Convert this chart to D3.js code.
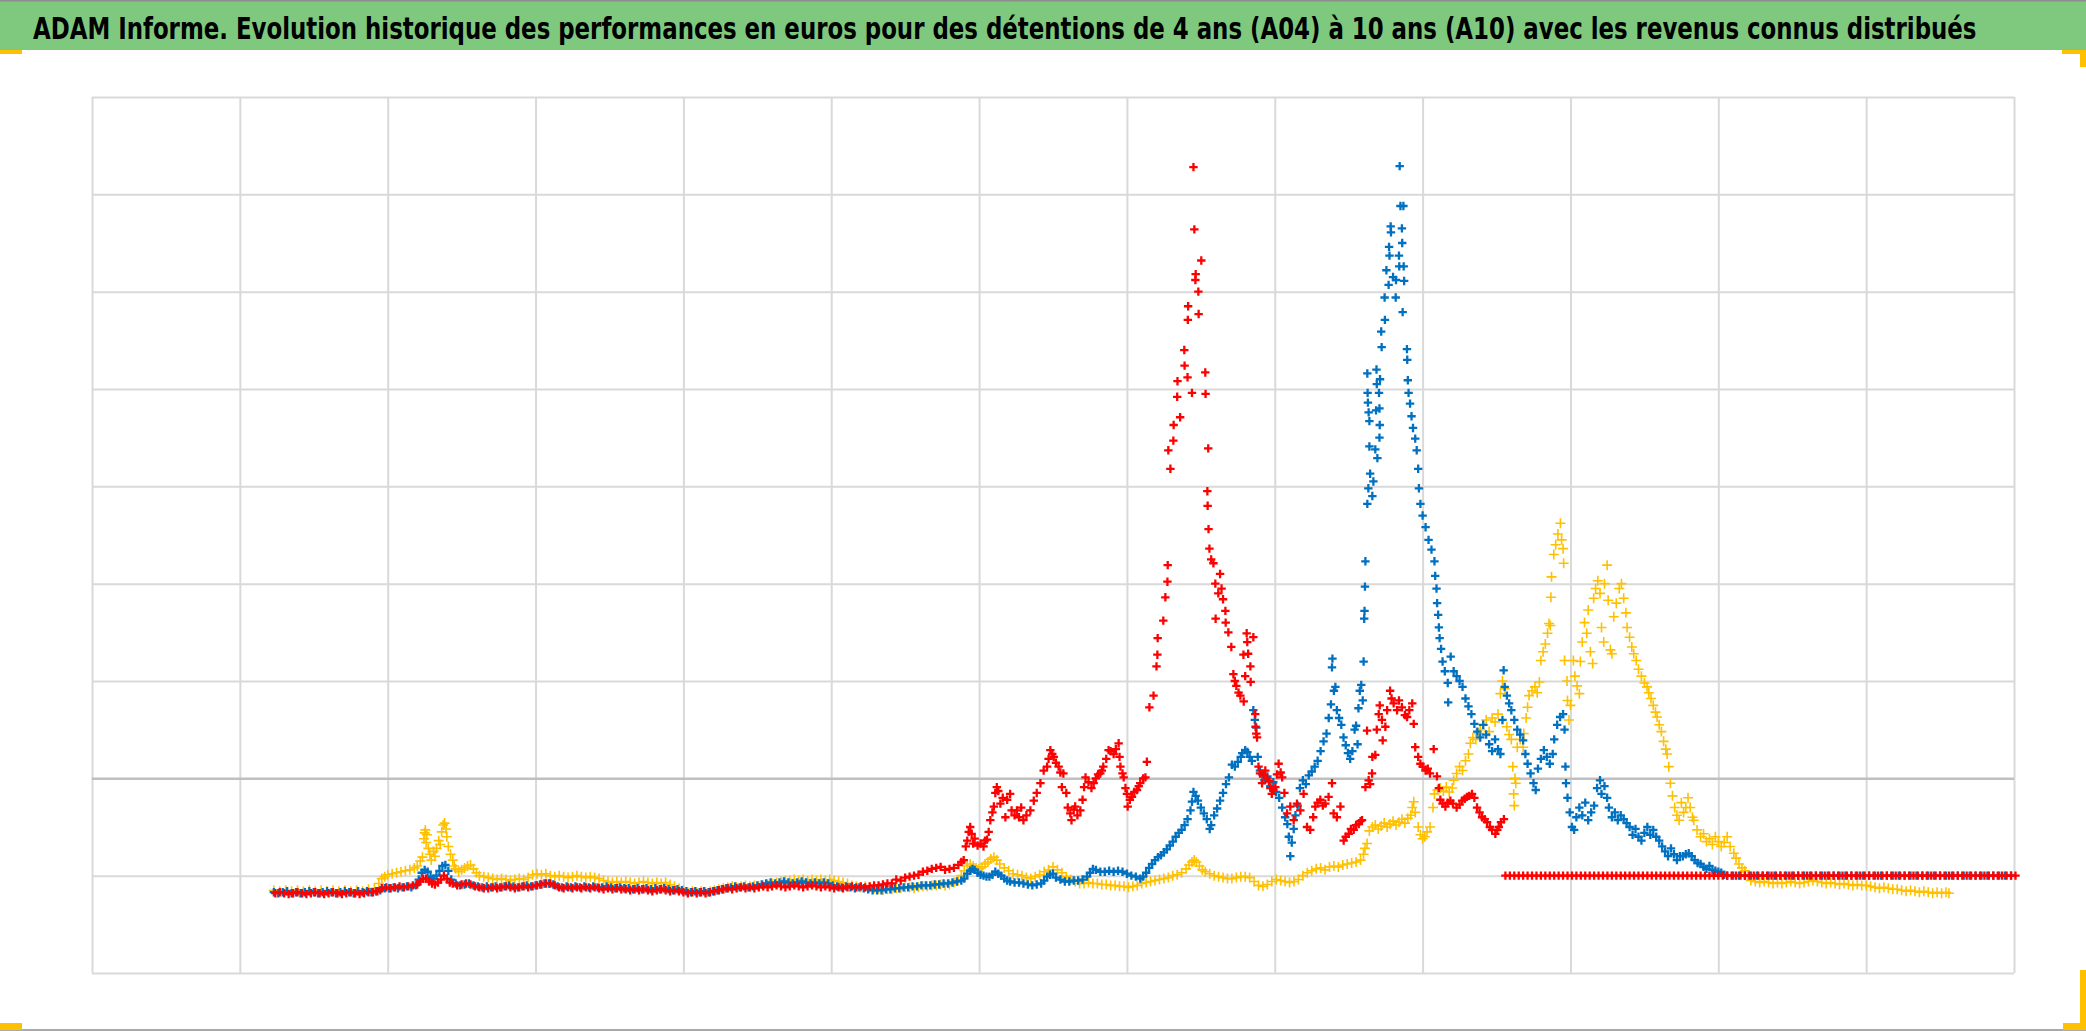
<!DOCTYPE html>
<html>
<head>
<meta charset="utf-8">
<script src="https://cdn.jsdelivr.net/npm/d3@7"></script>
<style>
  html, body { margin: 0; padding: 0; background: #ffffff; }
  svg { display: block; }
</style>
</head>
<body>
<svg id="chart" width="2086" height="1031"></svg>
<script>
// ---------------- DATA ----------------
const chartTitle = "ADAM Informe. Evolution historique des performances en euros pour des détentions de 4 ans (A04) à 10 ans (A10) avec les revenus connus distribués";

// grid positions (no tick labels are shown on the chart)
const xGrid = [0, 100, 200, 300, 400, 500, 600, 700, 800, 900, 1000, 1100, 1200, 1300];
const yGrid = [-200, -100, 0, 100, 200, 300, 400, 500, 600, 700];

const seriesNames = ["A04", "A07", "A10"];
const seriesColors = ["#FFC000", "#0070C0", "#FF0000"];

// [time index, performance]
const yellowData = [[123,-115],[127,-116],[131,-115],[135,-116],[139,-115],[143,-116],[147,-115],[151,-116],[155,-115],[159,-116],[163,-115],[167,-116],[171,-115],[175,-116],[179,-115],[183,-116],[187,-114],[191,-113],[194,-108],[196,-103],[198,-101],[200,-99],[203,-98],[206,-97],[209,-96],[212,-95],[215,-94],[218,-92],[220,-90],[222,-85],[223.5,-81],[224.5,-62],[225,-56],[225.5,-53],[226,-66],[226.5,-58],[227.5,-72],[228.5,-78],[229.5,-84],[231,-75],[232,-80],[233,-72],[234.5,-64],[235.5,-68],[236.5,-55],[237.5,-48],[238.5,-46],[239.5,-52],[240,-60],[241,-70],[242.5,-78],[244,-84],[245,-90],[246,-93],[248,-96],[250,-94],[252,-92],[254,-90],[256,-89],[258,-93],[260,-97],[262,-100],[265,-101],[268,-102],[271,-103],[274,-104],[277,-103],[280,-104],[283,-105],[286,-104],[289,-103],[292,-104],[295,-102],[298,-99],[301,-98],[304,-99],[307,-98],[310,-100],[313,-101],[316,-100],[319,-101],[322,-102],[325,-101],[328,-100],[331,-101],[334,-102],[337,-101],[340,-102],[343,-103],[346,-105],[349,-106],[352,-107],[355,-106],[358,-107],[361,-106],[364,-107],[367,-108],[370,-107],[373,-106],[376,-107],[379,-108],[382,-107],[385,-108],[388,-107],[391,-109],[394,-111],[397,-113],[400,-115],[403,-117],[406,-116],[409,-117],[412,-116],[415,-117],[418,-116],[421,-115],[424,-114],[427,-113],[430,-112],[433,-111],[436,-112],[439,-111],[442,-110],[445,-111],[448,-110],[451,-111],[454,-110],[457,-109],[460,-108],[463,-107],[466,-106],[469,-105],[472,-105],[475,-104],[478,-105],[481,-104],[484,-105],[487,-104],[490,-105],[493,-104],[496,-105],[499,-104],[502,-105],[505,-106],[508,-107],[511,-108],[514,-110],[517,-111],[520,-112],[523,-111],[526,-112],[529,-113],[532,-114],[535,-115],[538,-114],[541,-114],[544,-113],[547,-113],[550,-112],[553,-112],[556,-113],[559,-112],[562,-111],[565,-111],[568,-110],[571,-110],[574,-109],[577,-110],[580,-109],[583,-107],[586,-105],[588,-100],[590,-95],[592,-90],[594,-88],[596,-90],[598,-92],[600,-93],[602,-91],[604,-88],[606,-86],[608,-83],[610,-81],[612,-84],[614,-88],[617,-92],[620,-95],[623,-98],[626,-99],[629,-100],[632,-102],[635,-103],[638,-101],[641,-99],[644,-96],[647,-94],[650,-91],[653,-94],[656,-97],[659,-101],[662,-104],[665,-106],[668,-108],[671,-108],[674,-107],[677,-108],[680,-108],[683,-109],[686,-109],[689,-110],[692,-110],[695,-111],[698,-111],[701,-112],[704,-111],[707,-110],[710,-108],[713,-107],[716,-106],[719,-105],[722,-104],[725,-103],[728,-102],[731,-100],[734,-99],[737,-97],[740,-93],[742,-89],[744,-86],[745.5,-84],[747,-86],[749,-90],[751,-94],[753,-96],[756,-98],[759,-100],[762,-101],[765,-102],[768,-103],[771,-103],[774,-102],[777,-101],[780,-101],[783,-102],[786,-106],[789,-110],[792,-111],[795,-109],[798,-106],[801,-104],[804,-105],[807,-106],[810,-107],[813,-106],[816,-104],[819,-100],[822,-97],[825,-95],[828,-93],[831,-92],[834,-94],[837,-91],[840,-90],[843,-91],[846,-89],[849,-88],[852,-87],[855,-86],[858,-84],[860,-78],[861,-72],[862.4,-67],[864,-54],[866,-50],[868,-48],[870,-52],[872,-49],[874,-46],[876,-50],[878,-47],[880,-44],[882,-48],[884,-45],[886,-42],[888,-46],[890,-41],[892,-38],[893,-30],[894,-24],[895,-35],[897,-50],[898.5,-58],[900,-62],[901.5,-60],[903,-55],[905,-50],[907,-30],[908,-16],[910,-12],[912,-10],[914,-13],[916,-9],[918,-14],[920,-10],[921,-2],[923,5],[925,12],[927,8],[929,18],[931,25],[932.3,36],[934,42],[936,40],[938,46],[939,50],[941,55],[943,60],[945,48],[947,62],[949,58],[951,66],[952.6,87],[954,100],[955.5,92],[957,53],[958.5,45],[960,40],[961,12],[961.6,-16],[962,-28],[962.5,0],[963,-5],[964,32],[966,40],[968,32],[968.4,46],[970,62],[971,73],[972,85],[974,90],[976,94],[977.5,88],[979,99],[980,121],[981.5,130],[983,138],[984.5,149],[985.5,159],[986.4,157],[986.8,186],[987.2,207],[988.7,230],[990,240],[991.5,251],[993.2,262],[994,245],[995,236],[995.4,221],[996,121],[997.7,100],[998,80],[999,60],[1000,75],[1002,121],[1003,105],[1004.5,95],[1006,87],[1006.7,120],[1008,140],[1009.5,160],[1011,149],[1012,173],[1013.5,130],[1015,118],[1015.7,185],[1017,195],[1018.5,203],[1020,190],[1021,155],[1022.5,140],[1023,200],[1024.8,219],[1025.5,183],[1027,132],[1028,128],[1029.3,166],[1031,180],[1033,195],[1034.5,200],[1036,185],[1037.5,170],[1038.3,155],[1040,145],[1041.5,135],[1042.8,128],[1044.5,121],[1046,112],[1048,105],[1050,98],[1051.8,94],[1053,88],[1054.5,82],[1056,75],[1057.5,68],[1058.6,63],[1060,55],[1061.5,48],[1063,38],[1064.5,30],[1065.4,25],[1066.5,12],[1067.6,-5],[1069,-18],[1070.5,-30],[1072,-38],[1073.5,-43],[1075,-25],[1076.5,-35],[1078,-30],[1079.5,-20],[1081,-30],[1082.5,-40],[1083.4,-43],[1085.6,-53],[1088,-60],[1090,-57],[1092,-65],[1094,-62],[1096,-68],[1098,-60],[1100,-65],[1102,-70],[1104,-66],[1106,-60],[1108,-70],[1110.5,-77],[1112,-82],[1114,-88],[1116,-92],[1118,-95],[1120,-100],[1122,-105],[1125,-106],[1128,-107],[1131,-106],[1134,-107],[1137,-108],[1140,-107],[1143,-108],[1146,-107],[1149,-106],[1152,-107],[1155,-108],[1158,-107],[1161,-106],[1164,-105],[1167,-106],[1170,-107],[1173,-108],[1176,-107],[1179,-108],[1182,-109],[1185,-108],[1188,-109],[1191,-110],[1194,-109],[1197,-110],[1200,-110],[1203,-111],[1206,-112],[1209,-113],[1212,-112],[1215,-113],[1218,-114],[1221,-114],[1224,-115],[1227,-116],[1230,-115],[1233,-116],[1236,-117],[1239,-116],[1242,-117],[1245,-118],[1248,-117],[1251,-118],[1254,-117],[1256,-118]];

const blueData = [[123,-117],[126,-118],[129,-117],[132,-116],[135,-118],[138,-117],[141,-118],[144,-117],[147,-116],[150,-117],[153,-118],[156,-117],[159,-116],[162,-117],[165,-118],[168,-117],[171,-116],[174,-117],[177,-118],[180,-116],[183,-117],[186,-116],[189,-117],[192,-116],[195,-115],[198,-113],[201,-113],[204,-112],[207,-113],[210,-112],[213,-111],[216,-112],[219,-110],[221,-104],[223,-97],[225,-94],[227,-96],[229,-101],[231,-103],[233,-100],[235,-95],[237,-90],[239,-89],[241,-95],[243,-104],[246,-108],[249,-110],[252,-109],[255,-108],[258,-110],[261,-111],[264,-112],[267,-111],[270,-112],[273,-111],[276,-112],[279,-111],[282,-110],[285,-111],[288,-112],[291,-111],[294,-110],[297,-111],[300,-110],[303,-109],[306,-108],[309,-108],[312,-109],[315,-111],[318,-112],[321,-111],[324,-112],[327,-111],[330,-112],[333,-111],[336,-112],[339,-111],[342,-112],[345,-112],[348,-111],[351,-112],[354,-113],[357,-112],[360,-113],[363,-113],[366,-114],[369,-113],[372,-114],[375,-113],[378,-114],[381,-113],[384,-114],[387,-113],[390,-114],[393,-115],[396,-114],[399,-115],[402,-116],[405,-117],[408,-116],[411,-117],[414,-116],[417,-117],[420,-116],[423,-115],[426,-114],[429,-113],[432,-112],[435,-111],[438,-112],[441,-111],[444,-112],[447,-111],[450,-110],[453,-109],[456,-108],[459,-107],[462,-108],[465,-107],[468,-106],[471,-107],[474,-108],[477,-107],[480,-106],[483,-107],[486,-108],[489,-107],[492,-108],[495,-107],[498,-108],[501,-110],[504,-111],[507,-112],[510,-111],[513,-112],[516,-113],[519,-112],[522,-113],[525,-114],[528,-115],[531,-115],[534,-115],[537,-114],[540,-114],[543,-113],[546,-113],[549,-112],[552,-112],[555,-111],[558,-111],[561,-110],[564,-110],[567,-110],[570,-109],[573,-109],[576,-108],[579,-108],[582,-107],[585,-106],[588,-105],[590,-103],[592,-98],[594,-95],[595.5,-93],[597,-94],[599,-97],[601,-99],[603,-100],[605,-101],[607,-101],[609,-99],[611,-96],[613,-98],[615,-100],[617,-103],[619,-105],[621,-106],[624,-107],[627,-107],[630,-108],[633,-109],[636,-110],[639,-109],[642,-108],[644,-105],[646,-101],[648,-99],[650,-98],[652,-102],[655,-104],[658,-106],[661,-106],[664,-105],[667,-105],[670,-104],[673,-101],[675,-97],[677,-93],[679,-94],[682,-96],[685,-96],[688,-95],[691,-96],[694,-95],[697,-96],[700,-98],[703,-100],[706,-101],[709,-103],[711,-101],[713,-97],[715,-92],[717,-88],[719,-84],[721,-81],[723,-79],[725,-76],[727,-73],[729,-69],[731,-65],[733,-60],[735,-56],[737,-53],[739,-48],[741,-42],[743,-33],[744,-24],[745,-14],[746.5,-18],[748,-23],[750,-30],[752,-36],[754,-42],[756,-52],[757,-48],[759,-38],[761,-31],[763,-23],[765,-15],[767,-6],[769,1],[771,14],[773,12],[775,17],[777,22],[778,26],[780,29],[781.5,27],[783,22],[784.5,18],[785.5,70],[786.5,60],[787.5,52],[788.5,22],[790,8],[791.5,4],[793,-2],[795,2],[797,-8],[799,-4],[801,-14],[803,-20],[805,-30],[807,-40],[808.5,-47],[809.5,-60],[810.5,-80],[811.5,-66],[812.8,-52],[814,-38],[815.5,-28],[817,-10],[819,-2],[821,-6],[823,3],[825,7],[827,12],[829,18],[831,28],[833,38],[835,46],[836.5,62],[838,76],[838.7,114],[839,123],[840,90],[841,94],[842,70],[843.5,62],[845,55],[846.5,42],[848,34],[849.5,26],[851,20],[852.5,28],[854,50],[855,54],[856,35],[856.6,72],[857.5,90],[858.5,96],[859.5,80],[860.1,120],[860.5,164],[860.7,172],[861,197],[861.3,223],[862.6,282],[863.3,298],[864.5,313],[866,290],[866.7,305],[868,338],[869.4,329],[864,341],[862.6,416],[862.8,396],[863,386],[863.5,376],[864,367],[868.8,420],[869,405],[868.5,378],[870.5,396],[870.8,380],[871,363],[871.2,410],[870.8,350],[872,459],[872.3,443],[874.3,494],[874.5,471],[875.5,522],[877,507],[877.3,546],[877.6,537],[878.4,567],[878.6,561],[880,515],[881.8,494],[882,512],[884,537],[884.2,526],[884.5,629],[885,588],[887,588],[886,565],[886.2,550],[886.5,479],[887.2,526],[887.5,511],[889.4,441],[889.6,430],[890,409],[890.5,396],[891.5,385],[892.5,372],[893.5,360],[895,349],[896,337],[897,318],[897.5,298],[898.5,282],[900,270],[902,258],[904,245],[906,235],[908,223],[908.5,208],[909.4,195],[909.8,180],[910.5,168],[911,155],[911.5,144],[912.5,133],[913.5,120],[915,110],[917,98],[917.3,78],[919,125],[921,110],[923,105],[925,100],[927,94],[929,82],[931,74],[933,66],[935,56],[937,48],[939,42],[941,55],[943,45],[945,35],[947,28],[949,40],[951,30],[952.6,25],[954,60],[954.8,111],[955.5,94],[957,85],[958.5,77],[960,70],[962,60],[964,50],[966,45],[968,39],[969.5,25],[971,15],[973,5],[975,-5],[976.5,-12],[978,10],[980,20],[982,29],[984,22],[986,15],[988,25],[989,40],[991,55],[993,63],[995,66],[996,50],[996.6,12],[997,-5],[998,-20],[999.5,-35],[1001,-50],[1002.5,-53],[1004,-40],[1006,-30],[1008,-38],[1010,-25],[1012,-43],[1014,-35],[1016,-28],[1018,-10],[1020,-2],[1021,-16],[1023,-8],[1024.8,-20],[1026,-30],[1028,-40],[1030,-35],[1032,-43],[1034,-38],[1036,-42],[1038,-46],[1040,-50],[1042,-58],[1044,-52],[1046,-60],[1048,-64],[1050,-56],[1052,-50],[1054,-58],[1056,-53],[1058,-60],[1060,-64],[1062,-70],[1064,-75],[1066,-80],[1068,-72],[1070,-78],[1072,-84],[1074,-80],[1076,-80],[1078,-78],[1080,-77],[1082,-80],[1084,-84],[1086,-87],[1088,-88],[1090,-91],[1092,-93],[1094,-90],[1096,-94],[1098,-95],[1100,-96],[1102,-97],[1104,-99],[1106,-100],[1110,-100],[1114,-100],[1118,-100],[1122,-100],[1126,-100],[1130,-100],[1134,-100],[1138,-100],[1142,-100],[1146,-100],[1150,-100],[1154,-100],[1158,-100],[1162,-100],[1166,-100],[1170,-100],[1174,-100],[1178,-100],[1182,-100],[1186,-100],[1190,-100],[1194,-100],[1198,-100],[1202,-100],[1206,-100],[1210,-100],[1214,-100],[1218,-100],[1222,-100],[1226,-100],[1230,-100],[1234,-100],[1238,-100],[1242,-100],[1246,-100],[1250,-100],[1254,-100],[1258,-100],[1262,-100],[1266,-100],[1270,-100],[1274,-100],[1278,-100],[1282,-100],[1286,-100],[1290,-100],[1294,-100],[1298,-100]];

const redData = [[124,-118],[127,-117],[130,-118],[133,-119],[136,-118],[139,-117],[142,-118],[145,-119],[148,-118],[151,-117],[154,-118],[157,-119],[160,-118],[163,-117],[166,-118],[169,-119],[172,-118],[175,-117],[178,-118],[181,-119],[184,-118],[187,-117],[190,-117],[193,-116],[196,-113],[199,-112],[202,-113],[205,-112],[208,-111],[211,-112],[214,-111],[217,-110],[220,-109],[222,-106],[224,-103],[226,-103],[228,-106],[230,-108],[232,-109],[234,-107],[236,-104],[238,-100],[240,-103],[242,-107],[244,-108],[247,-110],[250,-109],[253,-108],[256,-109],[259,-111],[262,-112],[265,-113],[268,-113],[271,-112],[274,-113],[277,-112],[280,-111],[283,-112],[286,-113],[289,-112],[292,-111],[295,-112],[298,-111],[301,-110],[304,-109],[307,-108],[310,-108],[313,-110],[316,-112],[319,-113],[322,-112],[325,-113],[328,-112],[331,-113],[334,-112],[337,-113],[340,-112],[343,-113],[346,-114],[349,-113],[352,-114],[355,-113],[358,-114],[361,-114],[364,-115],[367,-114],[370,-115],[373,-114],[376,-115],[379,-116],[382,-115],[385,-114],[388,-115],[391,-116],[394,-115],[397,-116],[400,-117],[403,-118],[406,-117],[409,-118],[412,-117],[415,-118],[418,-117],[421,-116],[424,-115],[427,-114],[430,-113],[433,-114],[436,-113],[439,-112],[442,-113],[445,-112],[448,-113],[451,-112],[454,-111],[457,-112],[460,-111],[463,-110],[466,-111],[469,-112],[472,-111],[475,-110],[478,-111],[481,-112],[484,-111],[487,-110],[490,-111],[493,-112],[496,-111],[499,-112],[502,-113],[505,-112],[508,-113],[511,-112],[514,-111],[517,-112],[520,-111],[523,-112],[526,-111],[529,-110],[532,-110],[535,-109],[538,-108],[541,-108],[544,-104],[547,-105],[550,-102],[553,-101],[556,-100],[559,-99],[562,-96],[565,-95],[568,-93],[571,-92],[574,-91],[577,-94],[580,-93],[583,-92],[586,-89],[588,-86],[589.6,-84],[591,-70],[592,-64],[593,-55],[594,-50],[595,-57],[596,-67],[597,-62],[599,-69],[601,-67],[603,-70],[604,-64],[605.4,-63],[606.5,-55],[607.6,-43],[609,-35],[610,-29],[611,-15],[612,-9],[613,-13],[614.4,-26],[616,-20],[617.8,-40],[619,-22],[621,-16],[622,-33],[624,-38],[625.6,-33],[627,-40],[628.5,-30],[630,-43],[632,-38],[634.7,-33],[637,-23],[639,-15],[641.5,-5],[643.7,8],[646,12],[647,20],[648.2,29],[649.5,25],[650.5,22],[652,16],[653.8,12],[655,6],[656,-9],[657,5],[659,-15],[660,-30],[661.7,-36],[662.5,-43],[664,-32],[665,-29],[666.5,-38],[668.5,-33],[670,-22],[671,-9],[672,1],[674,-4],[676,-10],[677.5,-5],[679,0],[680.5,4],[682,5],[683,8],[684,12],[686,20],[687.6,29],[689,28],[691,25],[692.5,30],[694.4,36],[695,22],[695.6,12],[697,5],[697.8,1],[699,-10],[700,-16],[700.5,-29],[702,-22],[703.4,-19],[705,-14],[706.8,-12],[708,-8],[709,-5],[711,0],[712.5,1],[713.5,17],[715.2,73],[718,85],[720,115],[720.6,127],[720.8,144],[724.6,162],[726,186],[727.4,202],[727.6,219],[728,337],[729.4,318],[731.4,347],[731.6,363],[734,392],[734.2,408],[736,371],[738.8,440],[739,424],[741,412],[741.2,471],[741.4,485],[744,396],[745,628],[745.6,564],[746.3,512],[746.5,518],[748.3,500],[748.5,477],[750.3,532],[753,417],[753.2,395],[754.4,295],[754.6,280],[755,339],[755.2,256],[755.8,236],[757,225],[758.5,221],[759.8,200],[760,164],[761.8,190],[763,210],[764,195],[765,184],[766.6,172],[766.8,160],[768.6,150],[770.6,135],[772,107],[773,100],[774,95],[775.5,88],[776.7,85],[778.8,127],[779,79],[780,105],[781,149],[781.4,140],[782,128],[783.5,115],[783.7,99],[785.5,145],[786.8,66],[787,53],[787.5,46],[788,42],[789,12],[790,5],[791.4,-5],[792.5,3],[793.6,8],[795,0],[796,-3],[797,-10],[798,-16],[799,-12],[800.4,-9],[801.5,4],[802.6,15],[804,6],[805,1],[806.5,-15],[808.3,-36],[810.5,-29],[812.8,-43],[815,-26],[817.3,-33],[819.5,-16],[821.8,-50],[824,-53],[826,-40],[827.4,-29],[829,-25],[830.8,-22],[832.5,-28],[834.2,-26],[836.4,-19],[838.7,-5],[839.8,-36],[842,-40],[844.4,-29],[846.6,-64],[848,-60],[850,-57],[851.5,-52],[853.4,-53],[855,-48],[856.8,-47],[858,-44],[859,-43],[861.3,-9],[862.4,49],[863.5,-2],[864.5,-6],[865.8,5],[866,22],[868,24],[869,50],[870.3,66],[871,75],[872.5,60],[873,39],[874.8,53],[876,70],[878,90],[879,82],[880.4,77],[882.7,70],[884,80],[886,73],[888,65],[889.5,63],[891,70],[893,77],[894,56],[895,32],[897,22],[898.5,15],[900,12],[902,8],[903.5,10],[905,5],[907.5,30],[909.7,2],[911,-10],[912,-22],[913.5,-26],[915.4,-29],[917,-25],[918.8,-23],[920.5,-26],[923,-30],[925,-27],[926.7,-23],[928.5,-21],[930,-19],[931.5,-18],[933.4,-16],[935,-20],[936.8,-30],[938.5,-35],[940.2,-40],[942,-42],[943.6,-45],[945.5,-50],[947,-53],[949.2,-57],[950.5,-53],[951.5,-50],[953,-45],[955,-42],[956,-100],[959,-100],[962,-100],[965,-100],[968,-100],[971,-100],[974,-100],[977,-100],[980,-100],[983,-100],[986,-100],[989,-100],[992,-100],[995,-100],[998,-100],[1001,-100],[1004,-100],[1007,-100],[1010,-100],[1013,-100],[1016,-100],[1019,-100],[1022,-100],[1025,-100],[1028,-100],[1031,-100],[1034,-100],[1037,-100],[1040,-100],[1043,-100],[1046,-100],[1049,-100],[1052,-100],[1055,-100],[1058,-100],[1061,-100],[1064,-100],[1067,-100],[1070,-100],[1073,-100],[1076,-100],[1079,-100],[1082,-100],[1085,-100],[1088,-100],[1091,-100],[1094,-100],[1097,-100],[1100,-100],[1103,-100],[1106,-100],[1109,-100],[1112,-100],[1115,-100],[1118,-100],[1121,-100],[1124,-100],[1127,-100],[1130,-100],[1133,-100],[1136,-100],[1139,-100],[1142,-100],[1145,-100],[1148,-100],[1151,-100],[1154,-100],[1157,-100],[1160,-100],[1163,-100],[1166,-100],[1169,-100],[1172,-100],[1175,-100],[1178,-100],[1181,-100],[1184,-100],[1187,-100],[1190,-100],[1193,-100],[1196,-100],[1199,-100],[1202,-100],[1205,-100],[1208,-100],[1211,-100],[1214,-100],[1217,-100],[1220,-100],[1223,-100],[1226,-100],[1229,-100],[1232,-100],[1235,-100],[1238,-100],[1241,-100],[1244,-100],[1247,-100],[1250,-100],[1253,-100],[1256,-100],[1259,-100],[1262,-100],[1265,-100],[1268,-100],[1271,-100],[1274,-100],[1277,-100],[1280,-100],[1283,-100],[1286,-100],[1289,-100],[1292,-100],[1295,-100],[1298,-100],[1301,-100]];

// ---------------- DRAWING ----------------
const W = 2086, H = 1031;
const plot = { left: 92, right: 2014, top: 97, bottom: 973 };

const svg = d3.select("#chart");
svg.append("rect").attr("x", 0).attr("y", 0).attr("width", W).attr("height", H).attr("fill", "#ffffff");

// title band
svg.append("rect").attr("x", 0).attr("y", 0).attr("width", W).attr("height", 50).attr("fill", "#7fc97f");
svg.append("line").attr("x1", 0).attr("x2", W).attr("y1", 0.75).attr("y2", 0.75)
  .attr("stroke", "#8c8c8c").attr("stroke-width", 1.5);
const titleText = svg.append("text")
  .attr("x", 0).attr("y", 0)
  .attr("font-family", "'DejaVu Sans Condensed', 'DejaVu Sans', sans-serif")
  .attr("font-weight", "bold")
  .attr("font-size", 30)
  .attr("fill", "#000000")
  .text(chartTitle);
const naturalLen = titleText.node().getComputedTextLength();
const targetLen = 1945;
titleText.attr("transform", `translate(33,39) scale(${targetLen / naturalLen},1)`);

// scales
const x = d3.scaleLinear().domain([xGrid[0], xGrid[xGrid.length - 1]]).range([plot.left, plot.right]);
const y = d3.scaleLinear().domain([yGrid[0], yGrid[yGrid.length - 1]]).range([plot.bottom, plot.top]);

// gridlines through axes (no labels on the original)
const gx = svg.append("g").attr("transform", `translate(0,${plot.bottom})`)
  .call(d3.axisBottom(x).tickValues(xGrid).tickSize(-(plot.bottom - plot.top)).tickFormat(""));
gx.select(".domain").remove();
gx.selectAll(".tick line").attr("stroke", "#d9d9d9").attr("stroke-width", 2);

const gy = svg.append("g").attr("transform", `translate(${plot.left},0)`)
  .call(d3.axisLeft(y).tickValues(yGrid).tickSize(-(plot.right - plot.left)).tickFormat(""));
gy.select(".domain").remove();
gy.selectAll(".tick line")
  .attr("stroke", d => d === 0 ? "#bfbfbf" : "#d9d9d9")
  .attr("stroke-width", d => d === 0 ? 2.5 : 2);

// markers "+"
function plus(s) { return `M${-s},0H${s}M0,${-s}V${s}`; }

const series = [
  { data: yellowData, color: seriesColors[0], size: 5, width: 1.6 },
  { data: blueData,   color: seriesColors[1], size: 4.2, width: 2.3 },
  { data: redData,    color: seriesColors[2], size: 4.2, width: 2.3 }
];

series.forEach((s, i) => {
  svg.append("g").attr("class", "series-" + seriesNames[i])
    .selectAll("path")
    .data(s.data)
    .join("path")
    .attr("d", plus(s.size))
    .attr("transform", d => `translate(${x(d[0])},${y(d[1])})`)
    .attr("fill", "none")
    .attr("stroke", s.color)
    .attr("stroke-width", s.width);
});

// outer frame lines and selection handles
svg.append("line").attr("x1", 0).attr("x2", W).attr("y1", 1030).attr("y2", 1030)
  .attr("stroke", "#8c8c8c").attr("stroke-width", 1.5);
const handle = "#FFC000";
[[0, 50, 22, 4], [2062, 50, 24, 4], [2080, 50, 6, 17], [0, 1023, 22, 7], [2063, 1023, 23, 7], [2080, 970, 6, 60]]
  .forEach(r => svg.append("rect").attr("x", r[0]).attr("y", r[1]).attr("width", r[2]).attr("height", r[3]).attr("fill", handle));
</script>
</body>
</html>
